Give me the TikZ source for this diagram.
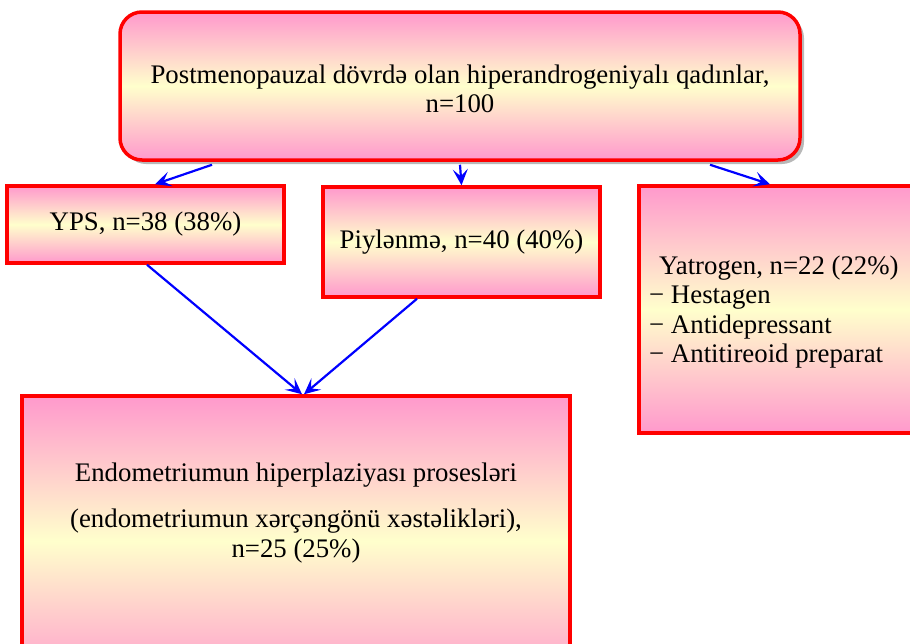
\documentclass[tikz,border=0pt]{standalone}
\usepackage{fontspec}
\setmainfont{Liberation Serif}
\usetikzlibrary{arrows.meta,shadows}
\definecolor{pinkc}{HTML}{FF99CC}
\definecolor{yelc}{HTML}{FFFFCC}
\begin{document}
\begin{tikzpicture}[x=1pt,y=-1pt,
  box/.style={draw=red, line width=3.5pt, top color=pinkc, bottom color=pinkc, middle color=yelc, inner sep=0pt},
  arr/.style={draw=blue, line width=2.2pt, -{Stealth[length=16pt,width=15pt,inset=7pt]}},
  txt/.style={font=\fontsize{26.8}{29.5}\selectfont, inner sep=0pt}]
\useasboundingbox (0,0) rectangle (910,643);
\clip (0,0) rectangle (910,643);
\node[box, rounded corners=22pt, minimum width=680pt, minimum height=148pt,
      drop shadow={shadow xshift=4pt, shadow yshift=-4pt, fill=gray!70, opacity=0.8},
      txt, align=center] (top) at (460,86) {};
\node[txt, align=center] (toptext) at (460,89) {Postmenopauzal dövrdə olan hiperandrogeniyalı qadınlar,\\n=100};
\node[box, minimum width=277pt, minimum height=77pt, txt] (yps) at (145.5,224.5) {YPS, n=38 (38\%)};
\node[box, minimum width=277pt, minimum height=110pt, txt] (piy) at (461.5,242) {Piylənmə, n=40 (40\%)};
\node[box, minimum width=301pt, minimum height=247pt] (yat) at (789.5,309.5) {};
\node[txt, anchor=west, align=left] (yattext) at (649,312) {\hspace*{10pt}Yatrogen, n=22 (22\%)\\− Hestagen\\− Antidepressant\\− Antitireoid preparat};
\node[box, minimum width=548pt, minimum height=290pt] (endo) at (296,541) {};
\node[txt, align=center] (endotext) at (296,513) {Endometriumun hiperplaziyası prosesləri\\[17pt](endometriumun xərçəngönü xəstəlikləri),\\n=25 (25\%)};
\draw[arr] ([xshift=-248pt,yshift=-3pt]top.south) -- ([xshift=9.5pt]yps.north);
\draw[arr] ([yshift=-3pt]top.south) -- (piy.north);
\draw[arr] ([xshift=250pt,yshift=-3pt]top.south) -- ([xshift=-19.5pt]yat.north);
\draw[arr] ([xshift=1.5pt]yps.south) -- ([xshift=6pt]endo.north);
\draw[arr] ([xshift=-44.5pt]piy.south) -- ([xshift=8pt]endo.north);
\end{tikzpicture}
\end{document}
